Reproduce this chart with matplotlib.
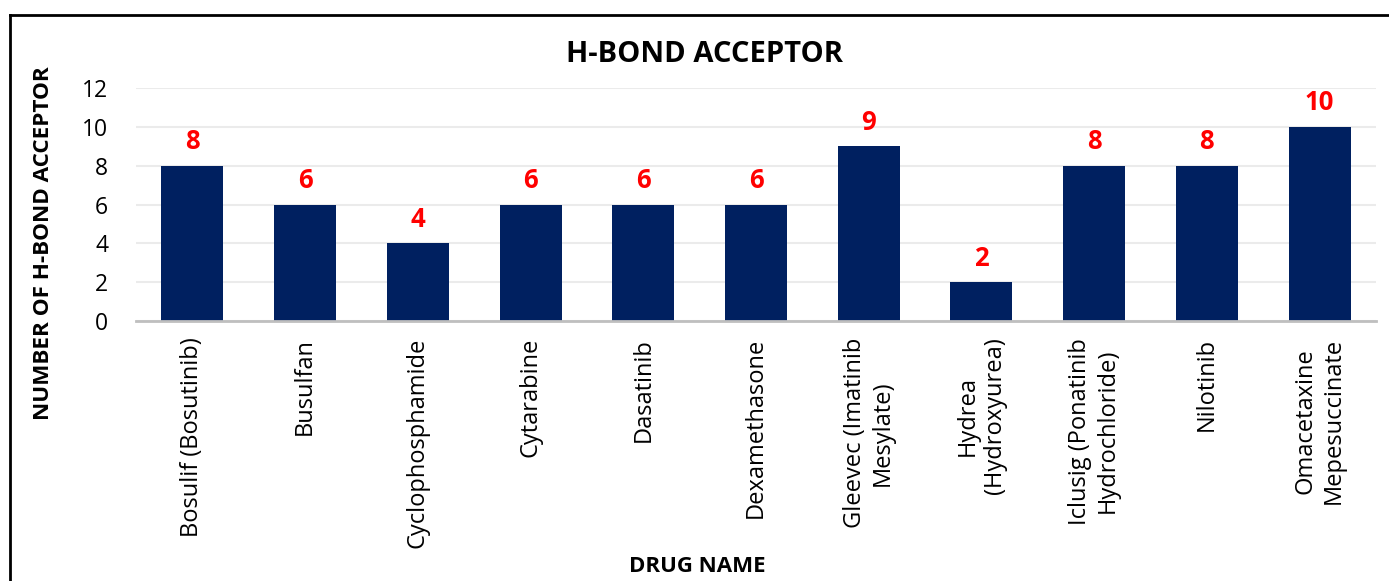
import matplotlib
matplotlib.use("Agg")
import matplotlib.pyplot as plt
from matplotlib.lines import Line2D

plt.rcParams['font.family'] = ['Open Sans', 'DejaVu Sans']

drugs = [
    "Bosulif (Bosutinib)",
    "Busulfan",
    "Cyclophosphamide",
    "Cytarabine",
    "Dasatinib",
    "Dexamethasone",
    "Gleevec (Imatinib\nMesylate)",
    "Hydrea\n(Hydroxyurea)",
    "Iclusig (Ponatinib\nHydrochloride)",
    "Nilotinib",
    "Omacetaxine\nMepesuccinate",
]
hbond_acceptors = [8, 6, 4, 6, 6, 6, 9, 2, 8, 8, 10]
y_ticks = [0, 2, 4, 6, 8, 10, 12]

fig = plt.figure(figsize=(13.89, 5.81), dpi=100)
ax = fig.add_axes([136/1389, 1-321/581, (1376-136)/1389, (321-88)/581])

x = list(range(len(drugs)))
bars = ax.bar(x, hbond_acceptors, width=0.55, color='#002060', zorder=3)
for xi, v in zip(x, hbond_acceptors):
    ax.annotate(str(v), (xi, v), xytext=(0, 7.5), textcoords='offset points',
                ha='center', va='bottom', color='#FF0000',
                fontsize=18.5, fontweight='bold')

ax.set_xlim(-0.5, len(drugs) - 0.5)
ax.set_ylim(0, 12)
ax.set_yticks(y_ticks)
ax.set_yticklabels([str(t) for t in y_ticks], fontsize=16.5, color='#000000')
ax.set_xticks(x)
ax.set_xticklabels(drugs, rotation=90, fontsize=17, ha='center', va='top',
                   multialignment='center', color='#000000')
ax.tick_params(axis='both', length=0)
ax.tick_params(axis='x', pad=12)
ax.tick_params(axis='y', pad=20)
ax.grid(axis='y', color='#EBEBEB', linewidth=1.5, zorder=0)
for s in ['top', 'right', 'left']:
    ax.spines[s].set_visible(False)
ax.spines['bottom'].set_color('#BFBFBF')
ax.spines['bottom'].set_linewidth(2)
ax.spines['bottom'].set_zorder(4)

fig.text(705/1389, 1-55/581, "H-BOND ACCEPTOR", ha='center', va='center',
         fontsize=21, fontweight='bold', color='#000000')
fig.text(697/1389, 1-567/581, "DRUG NAME", ha='center', va='center',
         fontsize=16, fontweight='bold', color='#000000')
fig.text(44/1389, 1-243/581, "NUMBER OF H-BOND ACCEPTOR", ha='center', va='center',
         rotation=90, fontsize=16.2, fontweight='bold', color='#000000')

# outer frame (top and left edges visible)
fig.add_artist(Line2D([10/1389, 1.0], [1-15/581, 1-15/581], color='black', linewidth=2,
                      transform=fig.transFigure))
fig.add_artist(Line2D([10/1389, 10/1389], [0.0, 1-15/581], color='black', linewidth=2,
                      transform=fig.transFigure))

fig.savefig("out.png", dpi=100)
